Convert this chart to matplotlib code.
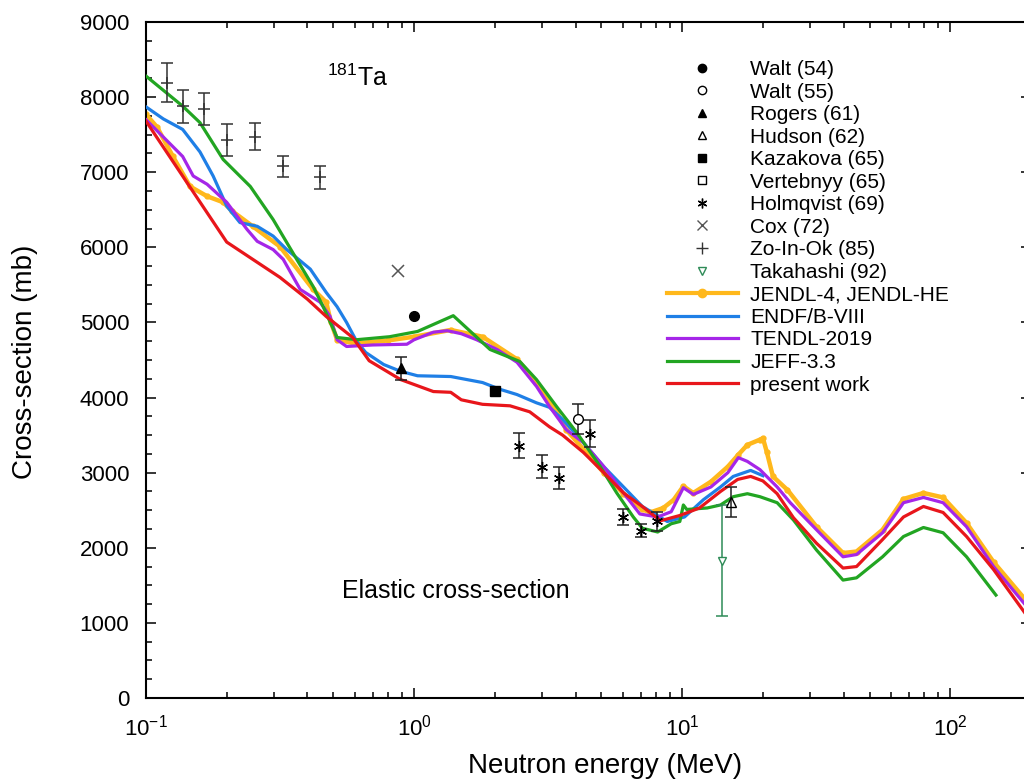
import matplotlib
matplotlib.use("Agg")
import matplotlib.pyplot as plt
from matplotlib.lines import Line2D
from matplotlib.ticker import LogLocator, MultipleLocator

plt.rcParams["font.family"] = ["Liberation Sans", "DejaVu Sans"]
plt.rcParams["mathtext.fontset"] = "custom"
plt.rcParams["mathtext.rm"] = "Liberation Sans"
plt.rcParams["mathtext.it"] = "Liberation Sans:italic"
plt.rcParams["mathtext.default"] = "regular"

# ---- evaluated data (MeV, mb) ----
jendl_e = [0.1, 0.11, 0.126, 0.146, 0.169, 0.194, 0.21, 0.25, 0.316, 0.42, 0.47, 0.49,
           0.516, 0.6, 0.8, 1.0, 1.37, 1.8, 2.42, 2.86, 3.4, 3.7, 5.1, 6.04, 7.1, 7.6,
           8.5, 9.3, 10.1, 11, 12.8, 14.8, 16.2, 17.5, 19.5, 20, 20.7, 21.8, 24.7,
           31.7, 39.8, 44.7, 55.9, 66.9, 79.4, 94, 115, 145, 200]
jendl_xs = [7770, 7600, 7210, 6810, 6680, 6600, 6480, 6280, 6010, 5440, 5270, 5000,
            4770, 4720, 4760, 4810, 4900, 4810, 4510, 4200, 3800, 3570, 3000, 2720, 2510, 2470,
            2530, 2640, 2820, 2730, 2880, 3080, 3240, 3370, 3440, 3460, 3270, 2950, 2770,
            2280, 1930, 1950, 2240, 2650, 2730, 2670, 2330, 1810, 1220]

endf_e = [0.1, 0.116, 0.137, 0.159, 0.178, 0.2, 0.224, 0.26, 0.298, 0.335, 0.41, 0.47,
          0.516, 0.56, 0.61, 0.66, 0.77, 0.89, 1.03, 1.37, 1.8, 2.09, 2.42, 2.86, 3.2,
          3.58, 4.28, 5.1, 6.04, 7.1, 8.8, 10.2, 12.0, 13.9, 15.5, 18, 20]
endf_xs = [7870, 7710, 7570, 7270, 6950, 6550, 6330, 6280, 6150, 5970, 5710, 5400,
           5210, 5000, 4750, 4600, 4440, 4350, 4290, 4280, 4200, 4110, 4040, 3930, 3870,
           3710, 3400, 3080, 2810, 2550, 2350, 2410, 2640, 2810, 2950, 3030, 2960]

tendl_e = [0.1, 0.137, 0.15, 0.169, 0.2, 0.238, 0.26, 0.298, 0.325, 0.376, 0.446, 0.486,
           0.516, 0.56, 0.7, 0.94, 1.0, 1.18, 1.33, 1.5, 1.71, 2.04, 2.42, 2.86, 3.2, 3.7,
           4.28, 5.1, 6.04, 6.95, 8.1, 9.1, 10.1, 11, 12.8, 14.8, 16.2, 17.5, 19.5, 22.6,
           25.3, 31.7, 39.8, 44.7, 55.9, 66.9, 79.4, 94, 115, 145, 200]
tendl_xs = [7700, 7210, 6950, 6840, 6600, 6240, 6080, 5970, 5840, 5440, 5270, 5080,
            4770, 4680, 4700, 4710, 4770, 4870, 4890, 4850, 4770, 4640, 4470, 4150, 3880, 3570,
            3400, 3080, 2730, 2450, 2410, 2480, 2800, 2710, 2810, 3000, 3200, 3150, 3040, 2810,
            2600, 2240, 1880, 1910, 2200, 2600, 2670, 2600, 2280, 1750, 1150]

jeff_e = [0.1, 0.137, 0.159, 0.194, 0.245, 0.298, 0.365, 0.42, 0.458, 0.494, 0.516, 0.61,
          0.81, 1.03, 1.4, 1.92, 2.48, 2.86, 3.4, 4.05, 4.95, 5.7, 6.57, 7.1, 8.1, 9.1,
          9.8, 10.1, 10.4, 12.4, 13.9, 15.5, 17.5, 19.5, 22.6, 26, 31.7, 39.8, 44.7,
          55.9, 66.9, 79.4, 94, 115, 148]
jeff_xs = [8280, 7880, 7660, 7170, 6810, 6370, 5840, 5480, 5210, 4950, 4800, 4770,
           4810, 4880, 5090, 4640, 4480, 4240, 3880, 3530, 3080, 2730, 2410, 2260, 2210, 2320,
           2350, 2570, 2510, 2530, 2570, 2680, 2720, 2680, 2600, 2370, 1970, 1570, 1600,
           1880, 2150, 2270, 2200, 1880, 1370]

present_e = [0.1, 0.2, 0.316, 0.4, 0.47, 0.59, 0.68, 0.89, 1.18, 1.37, 1.5, 1.8, 2.28,
             2.7, 3.2, 3.58, 4.28, 5.1, 6.04, 7.1, 8.3, 9.8, 11.6, 13.9, 16.1, 18, 20,
             22.6, 26, 31.7, 39.8, 44.7, 55.9, 66.9, 79.4, 94, 115, 145, 200]
present_xs = [7680, 6070, 5600, 5310, 5080, 4800, 4490, 4240, 4080, 4070, 3970, 3910, 3890,
              3810, 3610, 3500, 3270, 3000, 2730, 2550, 2360, 2430, 2530, 2750, 2910, 2950, 2890,
              2720, 2400, 2060, 1730, 1750, 2110, 2410, 2550, 2470, 2150, 1710, 1020]

# ---- experimental data ----
walt54_e, walt54_xs = [1.0], [5080]
walt55_e, walt55_xs, walt55_err = [4.09], [3710], [200]
rogers_e, rogers_xs, rogers_err = [0.894], [4390], [150]
hudson_e, hudson_xs, hudson_err = [15.2], [2610], [200]
kazakova_e, kazakova_xs = [2.0], [4090]
vertebnyy_e, vertebnyy_xs = [], []
holm_e = [2.46, 3.0, 3.48, 4.54, 6.03, 7.03, 8.07]
holm_xs = [3360, 3080, 2930, 3520, 2410, 2230, 2350]
holm_err = [170, 150, 145, 180, 110, 90, 120]
cox_e, cox_xs = [0.871], [5680]
zo_e = [0.12, 0.137, 0.165, 0.20, 0.255, 0.325, 0.446]
zo_xs = [8190, 7880, 7840, 7430, 7470, 7080, 6930]
zo_err = [260, 220, 210, 210, 180, 140, 150]
taka_e, taka_xs, taka_err = [14.1], [1830], [740]

C_JENDL = "#ffb81c"
C_ENDF = "#1f7fe6"
C_TENDL = "#a526e8"
C_JEFF = "#22a522"
C_PRES = "#e8161b"
C_TAKA = "#2e8b57"

fig = plt.figure(figsize=(10.24, 7.82), dpi=100)
ax = fig.add_axes([146 / 1024, 84 / 782, 885 / 1024, 676 / 782])

lw = 2.3
ax.plot(jendl_e, jendl_xs, color=C_JENDL, lw=3.2, marker="o", ms=3.5, zorder=2)
ax.plot(endf_e, endf_xs, color=C_ENDF, lw=lw, zorder=3)
ax.plot(tendl_e, tendl_xs, color=C_TENDL, lw=lw, zorder=4)
ax.plot(jeff_e, jeff_xs, color=C_JEFF, lw=lw, zorder=5)
ax.plot(present_e, present_xs, color=C_PRES, lw=lw, zorder=6)

ebar = dict(fmt="none", capsize=4, elinewidth=1.1, capthick=1.1, zorder=7)
ax.errorbar(walt55_e, walt55_xs, yerr=walt55_err, ecolor="#222222", **ebar)
ax.errorbar(rogers_e, rogers_xs, yerr=rogers_err, ecolor="#222222", **ebar)
ax.errorbar(hudson_e, hudson_xs, yerr=hudson_err, ecolor="#222222", **ebar)
ax.errorbar(holm_e, holm_xs, yerr=holm_err, ecolor="#222222", **ebar)
ax.errorbar(zo_e, zo_xs, yerr=zo_err, ecolor="#333333", **ebar)
ax.errorbar(taka_e, taka_xs, yerr=taka_err, ecolor=C_TAKA, **ebar)

mk = dict(ls="none", zorder=8)
ax.plot(walt54_e, walt54_xs, marker="o", ms=7, color="black", **mk)
ax.plot(walt55_e, walt55_xs, marker="o", ms=7, mfc="white", mec="black", **mk)
ax.plot(rogers_e, rogers_xs, marker="^", ms=7, color="black", **mk)
ax.plot(hudson_e, hudson_xs, marker="^", ms=7, mfc="none", mec="black", **mk)
ax.plot(kazakova_e, kazakova_xs, marker="s", ms=6.5, color="black", **mk)
ax.plot(vertebnyy_e, vertebnyy_xs, marker="s", ms=6.5, mfc="white", mec="black", **mk)
ax.plot(holm_e, holm_xs, marker=(6, 2, 0), ms=8, color="black", mew=1.0, **mk)
ax.plot(cox_e, cox_xs, marker="x", ms=8, color="#555555", mew=1.1, **mk)
ax.plot(zo_e, zo_xs, marker="+", ms=9, color="#333333", mew=1.1, **mk)
ax.plot(taka_e, taka_xs, marker="v", ms=6, mfc="white", mec=C_TAKA, **mk)

handles = [
    Line2D([], [], ls="none", marker="o", ms=6, color="black"),
    Line2D([], [], ls="none", marker="o", ms=6, mfc="white", mec="black"),
    Line2D([], [], ls="none", marker="^", ms=6, color="black"),
    Line2D([], [], ls="none", marker="^", ms=6, mfc="white", mec="black"),
    Line2D([], [], ls="none", marker="s", ms=5.5, color="black"),
    Line2D([], [], ls="none", marker="s", ms=5.5, mfc="white", mec="black"),
    Line2D([], [], ls="none", marker=(6, 2, 0), ms=7, color="black", mew=1.0),
    Line2D([], [], ls="none", marker="x", ms=7, color="#555555", mew=1.0),
    Line2D([], [], ls="none", marker="+", ms=8, color="#333333", mew=1.0),
    Line2D([], [], ls="none", marker="v", ms=5.5, mfc="white", mec=C_TAKA),
    Line2D([], [], color=C_JENDL, lw=3.0, marker="o", ms=6),
    Line2D([], [], color=C_ENDF, lw=lw),
    Line2D([], [], color=C_TENDL, lw=lw),
    Line2D([], [], color=C_JEFF, lw=lw),
    Line2D([], [], color=C_PRES, lw=lw),
]
labels = ["Walt (54)", "Walt (55)", "Rogers (61)", "Hudson (62)", "Kazakova (65)",
          "Vertebnyy (65)", "Holmqvist (69)", "Cox (72)", "Zo-In-Ok (85)", "Takahashi (92)",
          "JENDL-4, JENDL-HE", "ENDF/B-VIII", "TENDL-2019", "JEFF-3.3", "present work"]
fig.legend(handles, labels, loc="upper left", bbox_to_anchor=(667 / 1024, 1 - 60 / 782),
           frameon=False, fontsize=15, handlelength=3.4, handletextpad=0.6,
           labelspacing=0.17, borderpad=0, borderaxespad=0, numpoints=1)

ax.text(0.473, 8150, r"$^{181}$Ta", fontsize=18, ha="left", va="baseline")
ax.text(1.43, 1430, "Elastic cross-section", fontsize=18, ha="center", va="center")

ax.set_xscale("log")
ax.set_xlim(0.1, 200)
ax.set_ylim(0, 9000)
ax.yaxis.set_major_locator(MultipleLocator(1000))
ax.yaxis.set_minor_locator(MultipleLocator(250))
ax.xaxis.set_major_locator(LogLocator(base=10))
ax.xaxis.set_minor_locator(LogLocator(base=10, subs=range(2, 10)))

ax.tick_params(which="both", direction="in", top=True, right=True, width=1.1, labelsize=16)
ax.tick_params(which="major", length=7)
ax.tick_params(which="minor", length=4)
ax.tick_params(axis="x", pad=12)
ax.tick_params(axis="y", pad=12)
for s in ax.spines.values():
    s.set_linewidth(1.5)

ax.set_xlabel("Neutron energy (MeV)", fontsize=20)
ax.set_ylabel("Cross-section (mb)", fontsize=20)
ax.xaxis.set_label_coords((605 - 146) / 885, (698 - 753) / 676)
ax.yaxis.set_label_coords((38 - 146) / 885, (698 - 362) / 676)

fig.savefig("out.png", dpi=100)
